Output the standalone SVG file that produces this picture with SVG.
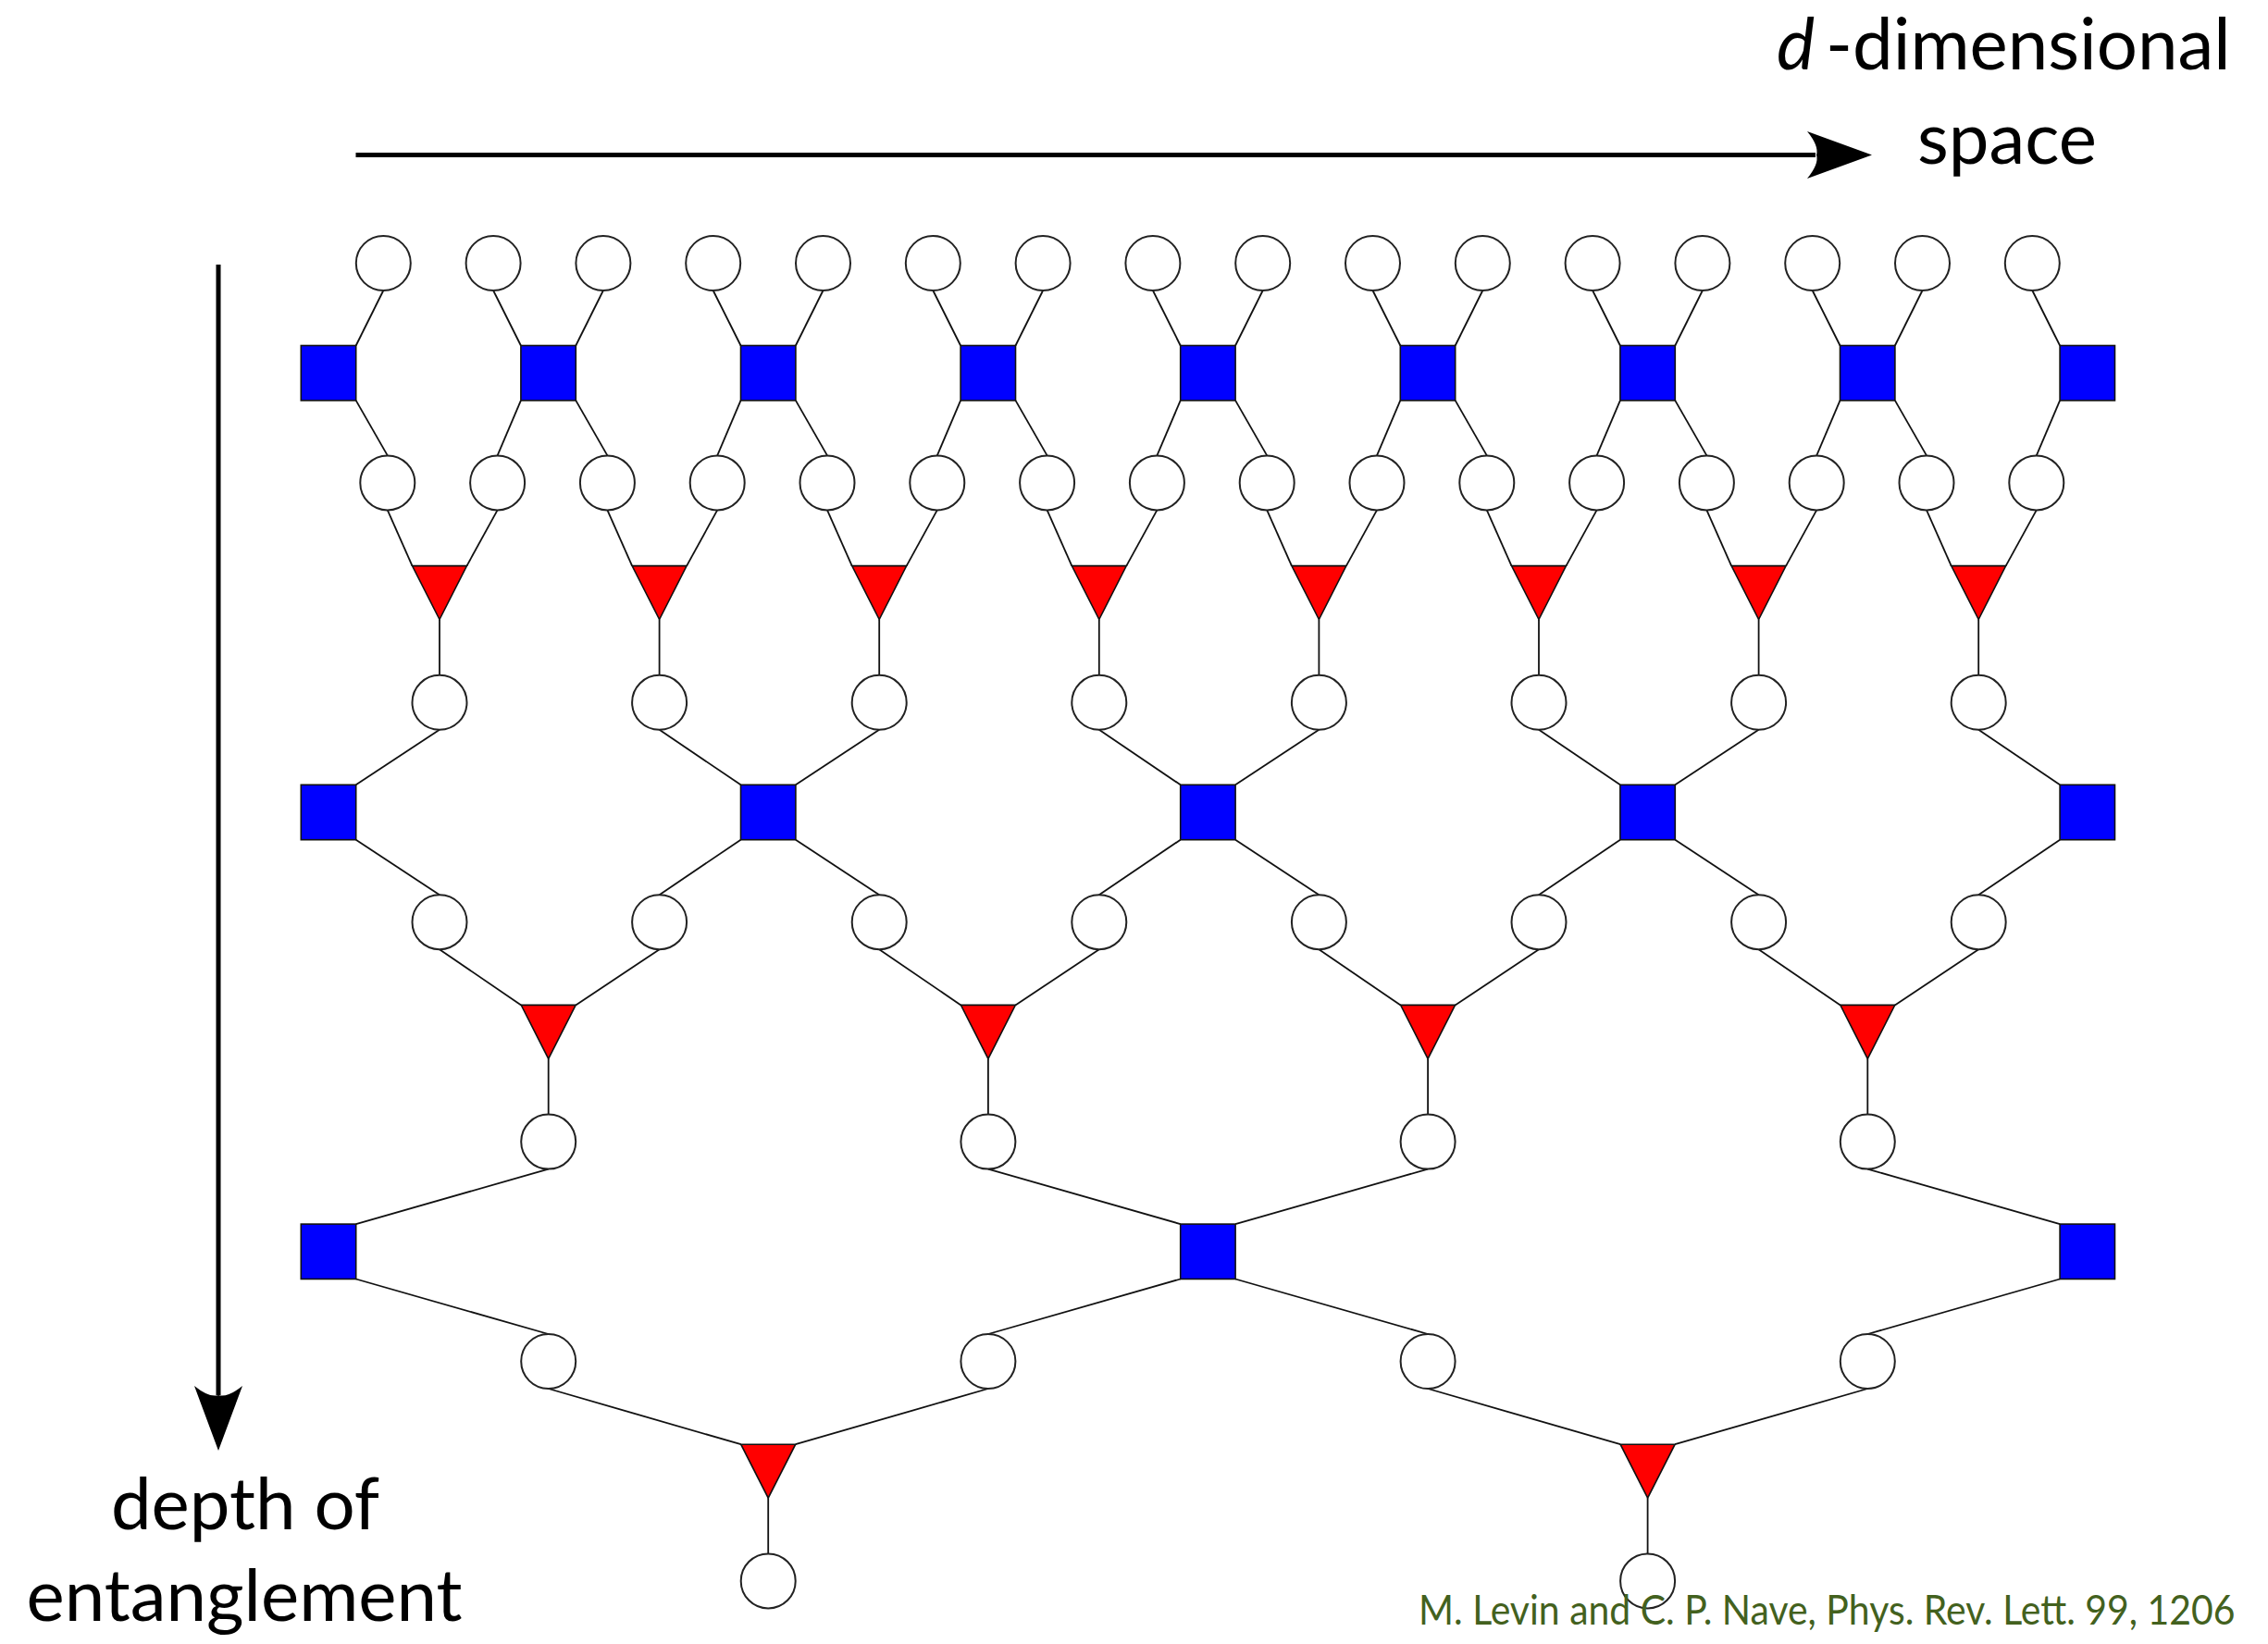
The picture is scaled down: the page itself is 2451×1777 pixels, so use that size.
<svg xmlns="http://www.w3.org/2000/svg" xmlns:xlink="http://www.w3.org/1999/xlink" width="2451" height="1777" viewBox="0 0 2451 1777">
<style>
.bg{fill:#ffffff}
.q{fill:#ffffff;stroke:#222222;stroke-width:2}
.u{fill:#0000ff;stroke:#111111;stroke-width:1.6}
.w{fill:#ff0000;stroke:#111111;stroke-width:1.6}
.e line{stroke:#111111;stroke-width:1.8}
.ax{stroke:#000000;stroke-width:5;fill:none}
.ah{fill:#000000}
.lbl{font-family:Lato,"Open Sans","DejaVu Sans",sans-serif;font-size:78px;fill:#000000}
.cit{font-family:Lato,"Open Sans","DejaVu Sans",sans-serif;font-size:45px;fill:#43611e}
</style>
<defs>
<circle id="circ" class="q" r="29.5"/>
<rect id="sq" class="u" x="-29.7" y="-29.7" width="59.4" height="59.4"/>
<path id="tri" class="w" d="M-29.5,-29 L29.5,-29 L0,29 Z"/>
</defs>
<rect class="bg" x="0" y="0" width="2451" height="1777"/>

<g id="axes">
<g id="axis-space">
<line class="ax" x1="384.5" y1="167.5" x2="1962" y2="167.5"/>
<path class="ah" d="M2023,167.5 L1953,142 Q1966,158 1963,167.5 Q1966,177 1953,193 Z"/>
</g>
<g id="axis-depth">
<line class="ax" x1="236" y1="286" x2="236" y2="1508"/>
<path class="ah" d="M236,1568 L210,1498 Q226,1511 236,1508 Q246,1511 262,1498 Z"/>
</g>
</g>

<g id="connectors" class="e">
<line x1="414.3" y1="314" x2="384.7" y2="373.5"/>
<line x1="533.1" y1="314" x2="562.9" y2="373.5"/>
<line x1="651.9" y1="314" x2="622.3" y2="373.5"/>
<line x1="770.7" y1="314" x2="800.5" y2="373.5"/>
<line x1="889.5" y1="314" x2="859.9" y2="373.5"/>
<line x1="1008.3" y1="314" x2="1038.1" y2="373.5"/>
<line x1="1127.1" y1="314" x2="1097.5" y2="373.5"/>
<line x1="1245.9" y1="314" x2="1275.7" y2="373.5"/>
<line x1="1364.7" y1="314" x2="1335.1" y2="373.5"/>
<line x1="1483.5" y1="314" x2="1513.3" y2="373.5"/>
<line x1="1602.3" y1="314" x2="1572.7" y2="373.5"/>
<line x1="1721.1" y1="314" x2="1750.9" y2="373.5"/>
<line x1="1839.9" y1="314" x2="1810.3" y2="373.5"/>
<line x1="1958.7" y1="314" x2="1988.5" y2="373.5"/>
<line x1="2077.5" y1="314" x2="2047.9" y2="373.5"/>
<line x1="2196.3" y1="314" x2="2226.1" y2="373.5"/>

<line x1="384.7" y1="432.9" x2="418.8" y2="492.4"/>
<line x1="562.9" y1="432.9" x2="537.6" y2="492.4"/>
<line x1="622.3" y1="432.9" x2="656.4" y2="492.4"/>
<line x1="800.5" y1="432.9" x2="775.2" y2="492.4"/>
<line x1="859.9" y1="432.9" x2="894.0" y2="492.4"/>
<line x1="1038.1" y1="432.9" x2="1012.8" y2="492.4"/>
<line x1="1097.5" y1="432.9" x2="1131.6" y2="492.4"/>
<line x1="1275.7" y1="432.9" x2="1250.4" y2="492.4"/>
<line x1="1335.1" y1="432.9" x2="1369.2" y2="492.4"/>
<line x1="1513.3" y1="432.9" x2="1488.0" y2="492.4"/>
<line x1="1572.7" y1="432.9" x2="1606.8" y2="492.4"/>
<line x1="1750.9" y1="432.9" x2="1725.6" y2="492.4"/>
<line x1="1810.3" y1="432.9" x2="1844.4" y2="492.4"/>
<line x1="1988.5" y1="432.9" x2="1963.2" y2="492.4"/>
<line x1="2047.9" y1="432.9" x2="2082.0" y2="492.4"/>
<line x1="2226.1" y1="432.9" x2="2200.8" y2="492.4"/>

<line x1="418.8" y1="551.4" x2="445.5" y2="611.6"/>
<line x1="537.6" y1="551.4" x2="504.5" y2="611.6"/>
<line x1="656.4" y1="551.4" x2="683.1" y2="611.6"/>
<line x1="775.2" y1="551.4" x2="742.1" y2="611.6"/>
<line x1="894.0" y1="551.4" x2="920.7" y2="611.6"/>
<line x1="1012.8" y1="551.4" x2="979.7" y2="611.6"/>
<line x1="1131.6" y1="551.4" x2="1158.3" y2="611.6"/>
<line x1="1250.4" y1="551.4" x2="1217.3" y2="611.6"/>
<line x1="1369.2" y1="551.4" x2="1395.9" y2="611.6"/>
<line x1="1488.0" y1="551.4" x2="1454.9" y2="611.6"/>
<line x1="1606.8" y1="551.4" x2="1633.5" y2="611.6"/>
<line x1="1725.6" y1="551.4" x2="1692.5" y2="611.6"/>
<line x1="1844.4" y1="551.4" x2="1871.1" y2="611.6"/>
<line x1="1963.2" y1="551.4" x2="1930.1" y2="611.6"/>
<line x1="2082.0" y1="551.4" x2="2108.7" y2="611.6"/>
<line x1="2200.8" y1="551.4" x2="2167.7" y2="611.6"/>

<line x1="475" y1="669.6" x2="475" y2="729.8"/>
<line x1="712.6" y1="669.6" x2="712.6" y2="729.8"/>
<line x1="950.2" y1="669.6" x2="950.2" y2="729.8"/>
<line x1="1187.8" y1="669.6" x2="1187.8" y2="729.8"/>
<line x1="1425.4" y1="669.6" x2="1425.4" y2="729.8"/>
<line x1="1663.0" y1="669.6" x2="1663.0" y2="729.8"/>
<line x1="1900.6" y1="669.6" x2="1900.6" y2="729.8"/>
<line x1="2138.2" y1="669.6" x2="2138.2" y2="729.8"/>

<line x1="475" y1="788.8" x2="384.7" y2="848.3"/>
<line x1="712.6" y1="788.8" x2="800.5" y2="848.3"/>
<line x1="950.2" y1="788.8" x2="859.9" y2="848.3"/>
<line x1="1187.8" y1="788.8" x2="1275.7" y2="848.3"/>
<line x1="1425.4" y1="788.8" x2="1335.1" y2="848.3"/>
<line x1="1663.0" y1="788.8" x2="1750.9" y2="848.3"/>
<line x1="1900.6" y1="788.8" x2="1810.3" y2="848.3"/>
<line x1="2138.2" y1="788.8" x2="2226.1" y2="848.3"/>

<line x1="384.7" y1="907.7" x2="475" y2="967.2"/>
<line x1="800.5" y1="907.7" x2="712.6" y2="967.2"/>
<line x1="859.9" y1="907.7" x2="950.2" y2="967.2"/>
<line x1="1275.7" y1="907.7" x2="1187.8" y2="967.2"/>
<line x1="1335.1" y1="907.7" x2="1425.4" y2="967.2"/>
<line x1="1750.9" y1="907.7" x2="1663.0" y2="967.2"/>
<line x1="1810.3" y1="907.7" x2="1900.6" y2="967.2"/>
<line x1="2226.1" y1="907.7" x2="2138.2" y2="967.2"/>

<line x1="475" y1="1026.2" x2="563.2" y2="1086.4"/>
<line x1="712.6" y1="1026.2" x2="622.2" y2="1086.4"/>
<line x1="950.2" y1="1026.2" x2="1038.4" y2="1086.4"/>
<line x1="1187.8" y1="1026.2" x2="1097.4" y2="1086.4"/>
<line x1="1425.4" y1="1026.2" x2="1513.6" y2="1086.4"/>
<line x1="1663.0" y1="1026.2" x2="1572.6" y2="1086.4"/>
<line x1="1900.6" y1="1026.2" x2="1988.8" y2="1086.4"/>
<line x1="2138.2" y1="1026.2" x2="2047.8" y2="1086.4"/>

<line x1="592.7" y1="1144.4" x2="592.7" y2="1204.6"/>
<line x1="1067.9" y1="1144.4" x2="1067.9" y2="1204.6"/>
<line x1="1543.1" y1="1144.4" x2="1543.1" y2="1204.6"/>
<line x1="2018.3" y1="1144.4" x2="2018.3" y2="1204.6"/>

<line x1="592.7" y1="1263.6" x2="384.7" y2="1323.1"/>
<line x1="1067.9" y1="1263.6" x2="1275.7" y2="1323.1"/>
<line x1="1543.1" y1="1263.6" x2="1335.1" y2="1323.1"/>
<line x1="2018.3" y1="1263.6" x2="2226.1" y2="1323.1"/>

<line x1="384.7" y1="1382.5" x2="592.7" y2="1442.0"/>
<line x1="1275.7" y1="1382.5" x2="1067.9" y2="1442.0"/>
<line x1="1335.1" y1="1382.5" x2="1543.1" y2="1442.0"/>
<line x1="2226.1" y1="1382.5" x2="2018.3" y2="1442.0"/>

<line x1="592.7" y1="1501.0" x2="800.7" y2="1561.2"/>
<line x1="1067.9" y1="1501.0" x2="859.7" y2="1561.2"/>
<line x1="1543.1" y1="1501.0" x2="1751.1" y2="1561.2"/>
<line x1="2018.3" y1="1501.0" x2="1810.1" y2="1561.2"/>

<line x1="830.2" y1="1619.2" x2="830.2" y2="1679.4"/>
<line x1="1780.6" y1="1619.2" x2="1780.6" y2="1679.4"/>
</g>

<g id="nodes">
<g id="c0-0"><use xlink:href="#circ" x="414.3" y="284.5"/></g>
<g id="c0-1"><use xlink:href="#circ" x="533.1" y="284.5"/></g>
<g id="c0-2"><use xlink:href="#circ" x="651.9" y="284.5"/></g>
<g id="c0-3"><use xlink:href="#circ" x="770.7" y="284.5"/></g>
<g id="c0-4"><use xlink:href="#circ" x="889.5" y="284.5"/></g>
<g id="c0-5"><use xlink:href="#circ" x="1008.3" y="284.5"/></g>
<g id="c0-6"><use xlink:href="#circ" x="1127.1" y="284.5"/></g>
<g id="c0-7"><use xlink:href="#circ" x="1245.9" y="284.5"/></g>
<g id="c0-8"><use xlink:href="#circ" x="1364.7" y="284.5"/></g>
<g id="c0-9"><use xlink:href="#circ" x="1483.5" y="284.5"/></g>
<g id="c0-10"><use xlink:href="#circ" x="1602.3" y="284.5"/></g>
<g id="c0-11"><use xlink:href="#circ" x="1721.1" y="284.5"/></g>
<g id="c0-12"><use xlink:href="#circ" x="1839.9" y="284.5"/></g>
<g id="c0-13"><use xlink:href="#circ" x="1958.7" y="284.5"/></g>
<g id="c0-14"><use xlink:href="#circ" x="2077.5" y="284.5"/></g>
<g id="c0-15"><use xlink:href="#circ" x="2196.3" y="284.5"/></g>

<g id="s1-0"><use xlink:href="#sq" x="355" y="403.2"/></g>
<g id="s1-1"><use xlink:href="#sq" x="592.6" y="403.2"/></g>
<g id="s1-2"><use xlink:href="#sq" x="830.2" y="403.2"/></g>
<g id="s1-3"><use xlink:href="#sq" x="1067.8" y="403.2"/></g>
<g id="s1-4"><use xlink:href="#sq" x="1305.4" y="403.2"/></g>
<g id="s1-5"><use xlink:href="#sq" x="1543.0" y="403.2"/></g>
<g id="s1-6"><use xlink:href="#sq" x="1780.6" y="403.2"/></g>
<g id="s1-7"><use xlink:href="#sq" x="2018.2" y="403.2"/></g>
<g id="s1-8"><use xlink:href="#sq" x="2255.8" y="403.2"/></g>

<g id="c2-0"><use xlink:href="#circ" x="418.8" y="521.9"/></g>
<g id="c2-1"><use xlink:href="#circ" x="537.6" y="521.9"/></g>
<g id="c2-2"><use xlink:href="#circ" x="656.4" y="521.9"/></g>
<g id="c2-3"><use xlink:href="#circ" x="775.2" y="521.9"/></g>
<g id="c2-4"><use xlink:href="#circ" x="894.0" y="521.9"/></g>
<g id="c2-5"><use xlink:href="#circ" x="1012.8" y="521.9"/></g>
<g id="c2-6"><use xlink:href="#circ" x="1131.6" y="521.9"/></g>
<g id="c2-7"><use xlink:href="#circ" x="1250.4" y="521.9"/></g>
<g id="c2-8"><use xlink:href="#circ" x="1369.2" y="521.9"/></g>
<g id="c2-9"><use xlink:href="#circ" x="1488.0" y="521.9"/></g>
<g id="c2-10"><use xlink:href="#circ" x="1606.8" y="521.9"/></g>
<g id="c2-11"><use xlink:href="#circ" x="1725.6" y="521.9"/></g>
<g id="c2-12"><use xlink:href="#circ" x="1844.4" y="521.9"/></g>
<g id="c2-13"><use xlink:href="#circ" x="1963.2" y="521.9"/></g>
<g id="c2-14"><use xlink:href="#circ" x="2082.0" y="521.9"/></g>
<g id="c2-15"><use xlink:href="#circ" x="2200.8" y="521.9"/></g>

<g id="t3-0"><use xlink:href="#tri" x="475" y="640.6"/></g>
<g id="t3-1"><use xlink:href="#tri" x="712.6" y="640.6"/></g>
<g id="t3-2"><use xlink:href="#tri" x="950.2" y="640.6"/></g>
<g id="t3-3"><use xlink:href="#tri" x="1187.8" y="640.6"/></g>
<g id="t3-4"><use xlink:href="#tri" x="1425.4" y="640.6"/></g>
<g id="t3-5"><use xlink:href="#tri" x="1663.0" y="640.6"/></g>
<g id="t3-6"><use xlink:href="#tri" x="1900.6" y="640.6"/></g>
<g id="t3-7"><use xlink:href="#tri" x="2138.2" y="640.6"/></g>

<g id="c4-0"><use xlink:href="#circ" x="475" y="759.3"/></g>
<g id="c4-1"><use xlink:href="#circ" x="712.6" y="759.3"/></g>
<g id="c4-2"><use xlink:href="#circ" x="950.2" y="759.3"/></g>
<g id="c4-3"><use xlink:href="#circ" x="1187.8" y="759.3"/></g>
<g id="c4-4"><use xlink:href="#circ" x="1425.4" y="759.3"/></g>
<g id="c4-5"><use xlink:href="#circ" x="1663.0" y="759.3"/></g>
<g id="c4-6"><use xlink:href="#circ" x="1900.6" y="759.3"/></g>
<g id="c4-7"><use xlink:href="#circ" x="2138.2" y="759.3"/></g>

<g id="s5-0"><use xlink:href="#sq" x="355" y="878"/></g>
<g id="s5-1"><use xlink:href="#sq" x="830.2" y="878"/></g>
<g id="s5-2"><use xlink:href="#sq" x="1305.4" y="878"/></g>
<g id="s5-3"><use xlink:href="#sq" x="1780.6" y="878"/></g>
<g id="s5-4"><use xlink:href="#sq" x="2255.8" y="878"/></g>

<g id="c6-0"><use xlink:href="#circ" x="475" y="996.7"/></g>
<g id="c6-1"><use xlink:href="#circ" x="712.6" y="996.7"/></g>
<g id="c6-2"><use xlink:href="#circ" x="950.2" y="996.7"/></g>
<g id="c6-3"><use xlink:href="#circ" x="1187.8" y="996.7"/></g>
<g id="c6-4"><use xlink:href="#circ" x="1425.4" y="996.7"/></g>
<g id="c6-5"><use xlink:href="#circ" x="1663.0" y="996.7"/></g>
<g id="c6-6"><use xlink:href="#circ" x="1900.6" y="996.7"/></g>
<g id="c6-7"><use xlink:href="#circ" x="2138.2" y="996.7"/></g>

<g id="t7-0"><use xlink:href="#tri" x="592.7" y="1115.4"/></g>
<g id="t7-1"><use xlink:href="#tri" x="1067.9" y="1115.4"/></g>
<g id="t7-2"><use xlink:href="#tri" x="1543.1" y="1115.4"/></g>
<g id="t7-3"><use xlink:href="#tri" x="2018.3" y="1115.4"/></g>

<g id="c8-0"><use xlink:href="#circ" x="592.7" y="1234.1"/></g>
<g id="c8-1"><use xlink:href="#circ" x="1067.9" y="1234.1"/></g>
<g id="c8-2"><use xlink:href="#circ" x="1543.1" y="1234.1"/></g>
<g id="c8-3"><use xlink:href="#circ" x="2018.3" y="1234.1"/></g>

<g id="s9-0"><use xlink:href="#sq" x="355" y="1352.8"/></g>
<g id="s9-1"><use xlink:href="#sq" x="1305.4" y="1352.8"/></g>
<g id="s9-2"><use xlink:href="#sq" x="2255.8" y="1352.8"/></g>

<g id="c10-0"><use xlink:href="#circ" x="592.7" y="1471.5"/></g>
<g id="c10-1"><use xlink:href="#circ" x="1067.9" y="1471.5"/></g>
<g id="c10-2"><use xlink:href="#circ" x="1543.1" y="1471.5"/></g>
<g id="c10-3"><use xlink:href="#circ" x="2018.3" y="1471.5"/></g>

<g id="t11-0"><use xlink:href="#tri" x="830.2" y="1590.2"/></g>
<g id="t11-1"><use xlink:href="#tri" x="1780.6" y="1590.2"/></g>

<g id="c12-0"><use xlink:href="#circ" x="830.2" y="1708.9"/></g>
<g id="c12-1"><use xlink:href="#circ" x="1780.6" y="1708.9"/></g>
</g>

<g id="labels">
<text class="lbl" x="1920" y="75"><tspan font-style="italic">d</tspan><tspan x="1973">-dimensional</tspan></text>
<text class="lbl" x="2169" y="177" text-anchor="middle">space</text>
<text class="lbl" x="265" y="1653" text-anchor="middle">depth of</text>
<text class="lbl" x="264" y="1752" text-anchor="middle">entanglement</text>
<text class="cit" transform="translate(1533,1756) scale(0.91,1)" x="0" y="0">M. Levin and C. P. Nave, Phys. Rev. Lett. 99, 1206</text>
</g>
</svg>
